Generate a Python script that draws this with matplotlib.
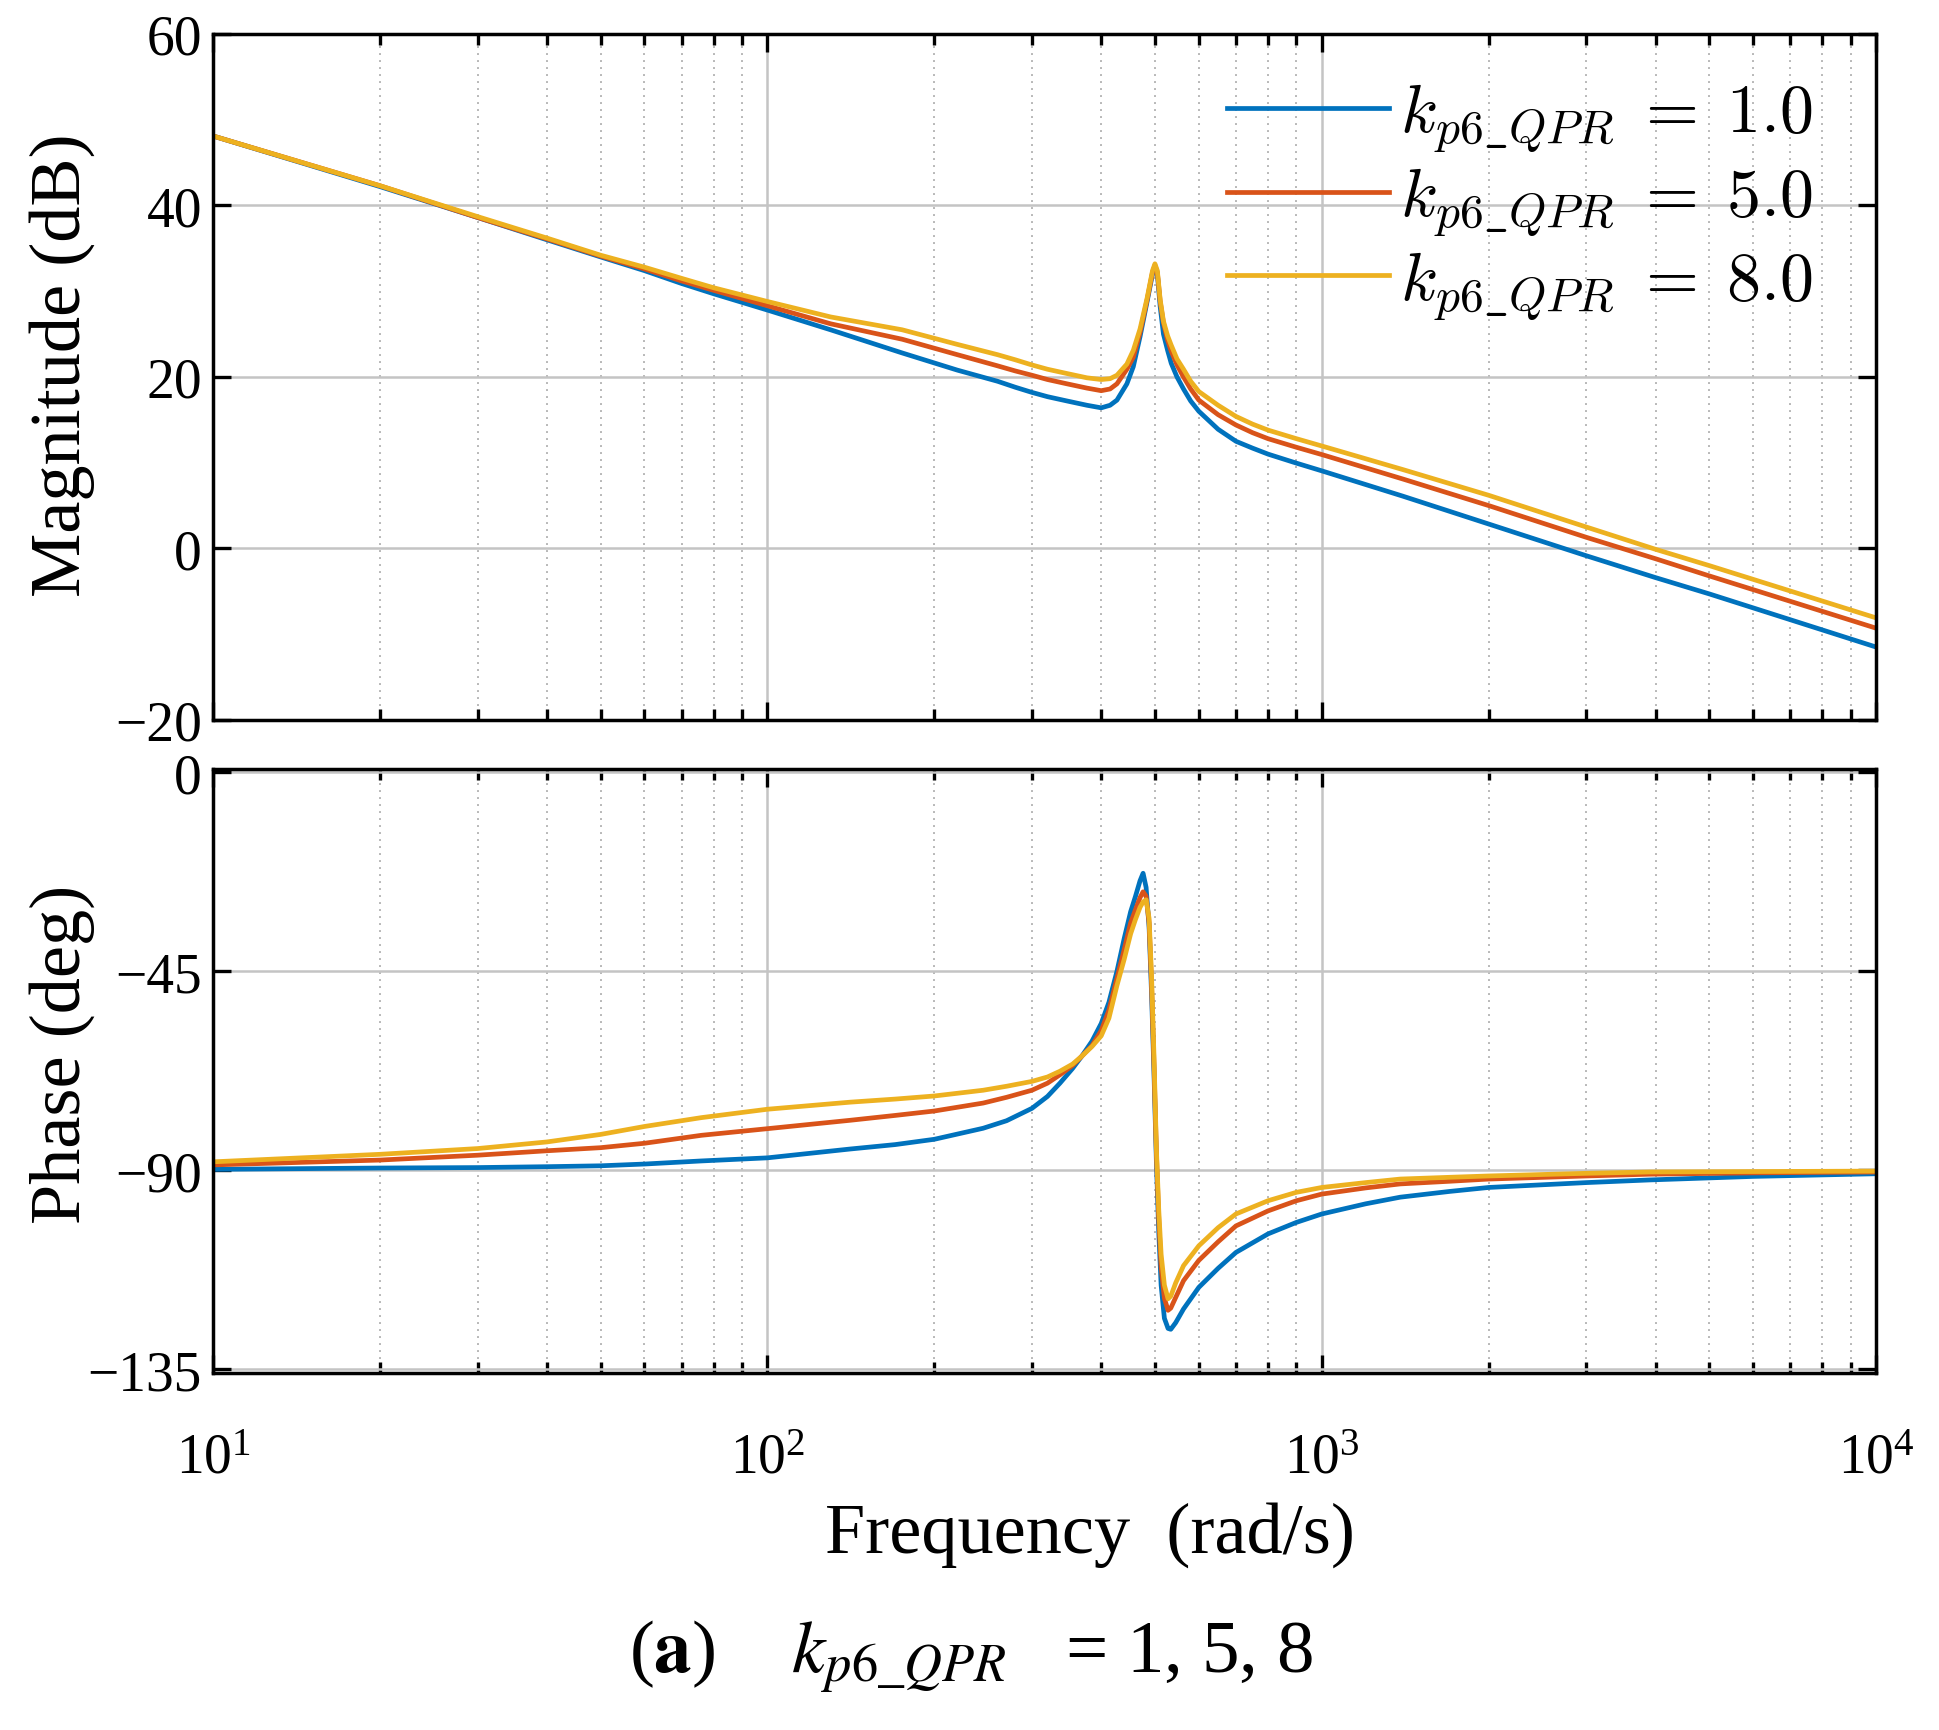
import matplotlib
matplotlib.use("Agg")
import matplotlib.pyplot as plt
from matplotlib.font_manager import FontProperties
from matplotlib.ticker import LogLocator, NullFormatter, LogFormatterMathtext

plt.rcParams['font.family'] = ['Liberation Serif', 'DejaVu Serif']
plt.rcParams['mathtext.fontset'] = 'stix'

# values
mag_freq = [10, 20, 30, 40, 50, 60, 70, 80, 100, 130, 175, 220, 260, 280, 300, 320,
            347, 377, 400, 415, 427, 445, 457, 470, 484, 495, 500,
            505, 511, 518, 527, 535, 548, 563, 580, 600, 650, 700, 750,
            800, 900, 1000, 1400, 2000, 3000, 4000, 5000, 10000]
mag_k1 = [48.1, 42.2, 38.6, 36.0, 34.0, 32.4, 30.9, 29.7, 27.8, 25.5, 22.8, 20.8, 19.5, 18.8,
          18.2, 17.7, 17.2, 16.7, 16.4, 16.7, 17.3, 19.2, 21.2, 24.7, 28.8, 32.0, 33.0,
          32.0, 28.2, 25.0, 23.1, 21.6, 20.0, 18.6, 17.2, 16.0, 13.9, 12.5, 11.7,
          11.0, 9.95, 9.05, 6.1, 2.85, -0.85, -3.4, -5.3, -11.5]
mag_k5 = [48.1, 42.3, 38.6, 36.1, 34.1, 32.6, 31.2, 30.1, 28.3, 26.2, 24.4, 22.6, 21.3, 20.7,
          20.2, 19.7, 19.2, 18.7, 18.4, 18.6, 19.2, 20.9, 22.3, 25.2, 29.0, 32.2, 33.0,
          32.2, 28.8, 26.3, 24.3, 23.0, 21.4, 20.0, 18.6, 17.3, 15.6, 14.4, 13.5,
          12.8, 11.8, 10.95, 8.1, 5.0, 1.3, -1.2, -3.2, -9.3]
mag_k8 = [48.1, 42.3, 38.7, 36.2, 34.2, 32.8, 31.5, 30.4, 28.8, 27.0, 25.5, 23.8, 22.6, 22.0,
          21.4, 20.9, 20.4, 19.9, 19.7, 19.8, 20.2, 21.5, 23.1, 25.6, 29.2, 32.4, 33.2,
          32.4, 29.0, 26.5, 24.8, 23.7, 22.1, 20.9, 19.5, 18.3, 16.7, 15.4, 14.5,
          13.8, 12.8, 11.95, 9.2, 6.2, 2.5, -0.1, -2.0, -8.1]

ph_freq = [10, 20, 30, 40, 50, 60, 76, 100, 141, 170, 200,
           245, 270, 300, 320, 337, 355, 369, 385, 400, 413,
           427, 440, 452, 461, 470, 476, 482, 488, 493, 498,
           503, 508, 513, 520, 528, 534, 545, 563, 600, 650,
           700, 800, 900, 1000, 1200, 1385, 1700, 2000, 3000, 3900, 6000, 10000]
ph_k1 = [-89.8, -89.5, -89.4, -89.2, -89.0, -88.6, -87.9, -87.2, -85.2, -84.2, -83.0,
         -80.5, -78.8, -76.0, -73.3, -70.3, -67.0, -64.2, -60.8, -56.8, -52.0,
         -45.0, -37.6, -31.5, -28.1, -24.5, -22.8, -26.0, -35.0, -50.0, -68.0,
         -88.0, -104.0, -116.0, -123.5, -125.8, -126.0, -124.5, -121.4, -116.5, -112.2,
         -108.6, -104.4, -101.8, -99.9, -97.6, -96.1, -94.8, -93.9, -92.8, -92.2, -91.4, -90.8]
ph_k5 = [-88.8, -87.7, -86.6, -85.6, -84.9, -83.9, -82.1, -80.6, -78.7, -77.6, -76.6,
         -74.8, -73.5, -71.9, -70.3, -68.4, -66.3, -64.2, -61.8, -58.4, -53.8,
         -46.6, -40.1, -34.0, -31.1, -28.3, -27.0, -28.0, -34.0, -48.0, -66.0,
         -86.0, -101.0, -112.0, -119.0, -121.7, -121.2, -118.8, -115.0, -110.4, -106.2,
         -102.6, -99.2, -96.9, -95.4, -94.0, -93.1, -92.5, -92.0, -91.3, -90.9, -90.6, -90.4]
ph_k8 = [-88.1, -86.4, -85.1, -83.6, -81.9, -80.1, -78.1, -76.2, -74.6, -73.9, -73.2,
         -71.9, -71.0, -69.9, -68.9, -67.6, -66.0, -64.2, -62.0, -59.6, -55.6,
         -48.2, -42.3, -36.5, -33.3, -30.5, -29.3, -28.8, -33.0, -46.0, -64.0,
         -85.0, -99.0, -109.0, -116.0, -119.1, -118.5, -115.5, -111.6, -107.1, -103.0,
         -99.9, -96.9, -95.0, -93.9, -92.8, -92.0, -91.6, -91.3, -90.7, -90.4, -90.3, -90.2]

labels = [r'$k_{p6\_QPR}\;=\;1.0$', r'$k_{p6\_QPR}\;=\;5.0$', r'$k_{p6\_QPR}\;=\;8.0$']
colors = ['#0072BD', '#D95319', '#EDB120']

fig = plt.figure(figsize=(19.39, 17.31), dpi=100)
ax1 = fig.add_axes([0.1099, 0.5835, 0.8577, 0.3963])
ax2 = fig.add_axes([0.1099, 0.2062, 0.8577, 0.3490])

for m, lab, c in zip([mag_k1, mag_k5, mag_k8], labels, colors):
    ax1.plot(mag_freq, m, color=c, lw=3.4, label=lab)
for p, c in zip([ph_k1, ph_k5, ph_k8], colors):
    ax2.plot(ph_freq, p, color=c, lw=3.4)

for ax in (ax1, ax2):
    ax.set_xscale('log')
    ax.set_xlim(10, 1e4)
    ax.set_axisbelow(True)
    ax.xaxis.set_major_locator(LogLocator(base=10, numticks=10))
    ax.xaxis.set_minor_locator(LogLocator(base=10, subs=range(2, 10), numticks=20))
    ax.xaxis.set_minor_formatter(NullFormatter())
    ax.grid(which='major', color='#c4c4c4', lw=1.8)
    ax.grid(which='minor', axis='x', color='#b8b8b8', lw=1.4, linestyle=(0, (1, 2.6)))
    ax.tick_params(which='both', direction='in', top=True, right=True, width=2.4,
                   labelsize=40, pad=8)
    ax.tick_params(which='major', length=13)
    ax.tick_params(which='minor', length=8)
    for s in ax.spines.values():
        s.set_linewidth(2.5)

ax1.set_ylim(-20, 60)
ax1.set_yticks([-20, 0, 20, 40, 60])
ax1.tick_params(axis='x', labelbottom=False)

ax2.set_ylim(-135.9, 0.8)
ax2.set_yticks([-135, -90, -45, 0])
ax2.xaxis.set_major_formatter(LogFormatterMathtext())
ax2.tick_params(axis='x', pad=43)

leg_font = FontProperties(family='Liberation Serif', size=49, math_fontfamily='cm')
ax1.legend(loc='upper left', bbox_to_anchor=(0.6095, 0.93), frameon=False, prop=leg_font,
           handlelength=2.38, handletextpad=0.16, labelspacing=0.165, borderpad=0,
           borderaxespad=0)

fig.text(0.032, 0.789, 'Magnitude (dB)', rotation=90, ha='center', va='center', fontsize=52)
fig.text(0.032, 0.391, 'Phase (deg)', rotation=90, ha='center', va='center', fontsize=52)
fig.text(0.5622, 0.1028, 'Frequency  (rad/s)', ha='center', va='baseline', fontsize=52)
fig.text(0.5008, 0.0335, r'($\mathbf{a}$)    $k_{p6\_QPR}$   = 1, 5, 8', ha='center',
         va='baseline', fontsize=54)

fig.savefig('out.png', dpi=100)
